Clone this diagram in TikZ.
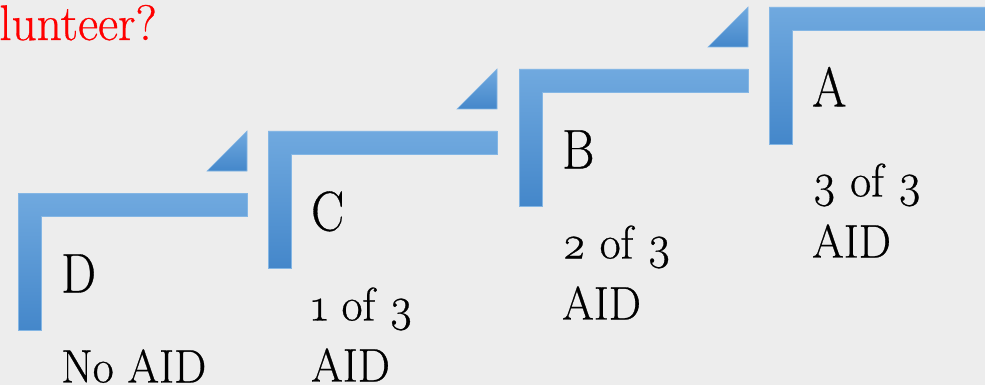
\documentclass[tikz,border=0pt]{standalone}
\usepackage{fontspec}
\setmainfont{Latin Modern Roman}[Numbers=OldStyle, FakeBold=0.6]
\definecolor{bg}{HTML}{EDEDED}
\definecolor{bartop}{HTML}{70A9DF}
\definecolor{barbot}{HTML}{4487CA}
\definecolor{baredge}{HTML}{84B6E4}
\begin{document}
\begin{tikzpicture}[x=1pt,y=-1pt,
  stepbar/.style={top color=bartop, bottom color=barbot, draw=baredge, line width=0.6pt},
  letterlbl/.style={anchor=base west, inner sep=0, font=\fontsize{56}{60}\selectfont},
  linelbl/.style={anchor=base west, inner sep=0, font=\fontsize{47}{56}\selectfont},
  redlbl/.style={anchor=base east, inner sep=0, text=red, font=\fontsize{50}{56}\selectfont}]
\fill[bg] (0,0) rectangle (985,385);
\useasboundingbox (0,0) rectangle (985,385);
\clip (0,0) rectangle (985,385);
% red title fragment
\node[redlbl] (title) at (157,40) {\scalebox{0.985}[1]{lunteer?}};
% steps: x0, y0, name, letter, line1, line2, bar width
\foreach \xo/\yo/\nm/\lt/\la/\lb/\bw in {
    18/193/d/D/No AID//229,
    268/131/c/C/1 of 3/AID/229,
    519/69/b/B/2 of 3/AID/229,
    769/7/a/A/3 of 3/AID/260}{
  \path[stepbar] (\xo,\yo) -- ++(\bw,0) -- ++(0,23.5) -- ++(-\bw+23,0) -- (\xo+23,\yo+137) -- (\xo,\yo+137) -- cycle;
  \path[stepbar] (\xo+189,\yo-22) -- (\xo+229,\yo-22) -- (\xo+229,\yo-62) -- cycle;
  \node[letterlbl] (letter-\nm) at (\xo+43,\yo+99.5) {\scalebox{0.88}[1]{\lt}};
  \node[linelbl] (first-\nm) at (\xo+43,\yo+189.5) {\scalebox{0.97}[1]{\la}};
  \node[linelbl] (second-\nm) at (\xo+43,\yo+250.5) {\scalebox{0.97}[1]{\lb}};
}
\end{tikzpicture}
\end{document}
